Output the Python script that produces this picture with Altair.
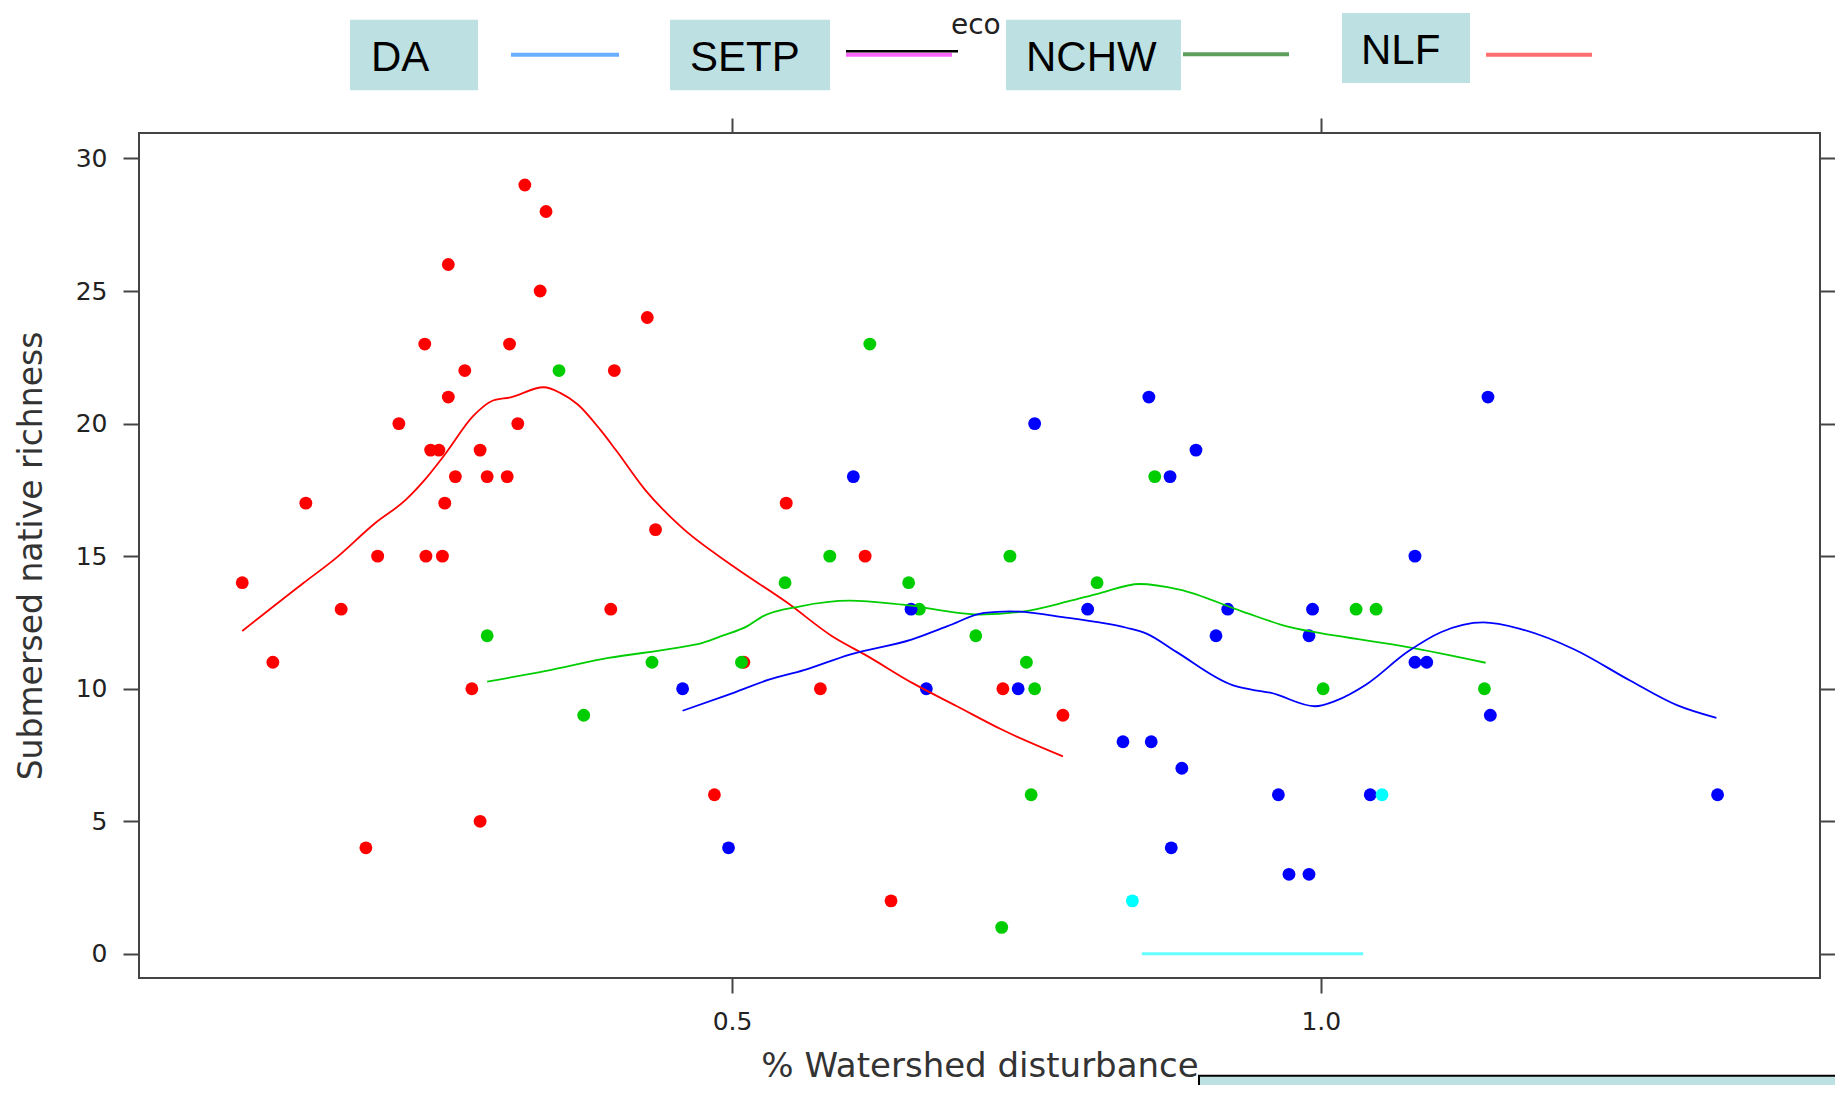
import altair as alt
import pandas as pd

# ---------------- data ----------------
GROUPS = ["DA", "SETP", "NCHW", "NLF"]
POINT_COLORS = ["#0000FF", "#00FFFF", "#00CD00", "#FF0000"]

NLF_X = [0.084, 0.110, 0.138, 0.168, 0.189, 0.199, 0.217, 0.239, 0.240, 0.244,
         0.251, 0.254, 0.256, 0.259, 0.259, 0.265, 0.273, 0.279, 0.286, 0.286,
         0.292, 0.309, 0.311, 0.318, 0.324, 0.337, 0.342, 0.397, 0.400, 0.428,
         0.435, 0.485, 0.510, 0.546, 0.575, 0.613, 0.635, 0.730, 0.781]
NLF_Y = [14, 11, 17, 13, 4, 15, 20, 23, 15, 19,
         19, 15, 17, 26, 21, 18, 22, 10, 19, 5,
         18, 18, 23, 20, 29, 25, 28, 13, 22, 24,
         16, 6, 11, 17, 10, 15, 2, 10, 9]

NCHW_X = [0.292, 0.353, 0.374, 0.432, 0.508, 0.545, 0.583, 0.617, 0.650, 0.659,
          0.707, 0.729, 0.736, 0.750, 0.754, 0.757, 0.810, 0.859, 1.002, 1.030,
          1.047, 1.139]
NCHW_Y = [12, 22, 9, 11, 11, 14, 15, 23, 14, 13,
          12, 1, 15, 11, 6, 10, 14, 18, 10, 13,
          13, 10]

DA_X = [0.458, 0.497, 0.603, 0.652, 0.665, 0.743, 0.757, 0.802, 0.832, 0.854,
        0.856, 0.872, 0.873, 0.882, 0.894, 0.911, 0.921, 0.964, 0.973, 0.990,
        0.990, 0.993, 1.042, 1.080, 1.080, 1.090, 1.142, 1.144, 1.337]
DA_Y = [10, 4, 18, 13, 10, 10, 20, 13, 8, 21,
        8, 18, 4, 7, 19, 12, 13, 6, 3, 3,
        12, 13, 6, 15, 11, 11, 21, 9, 6]

SETP_X = [0.840, 1.052]
SETP_Y = [2, 6]

# smoothed curves
NLF_LX = [0.084, 0.136, 0.162, 0.197, 0.223, 0.238, 0.257, 0.280, 0.297, 0.312,
          0.340, 0.354, 0.369, 0.388, 0.401, 0.426, 0.456, 0.501, 0.547, 0.585,
          0.615, 0.653, 0.691, 0.729, 0.781]
NLF_LY = [12.18, 13.99, 14.87, 16.25, 17.13, 17.83, 18.89, 20.28, 20.87, 20.99,
          21.37, 21.16, 20.72, 19.77, 19.02, 17.51, 16.13, 14.62, 13.24, 11.98,
          11.23, 10.22, 9.34, 8.46, 7.45]

NCHW_LX = [0.292, 0.341, 0.395, 0.453, 0.475, 0.492, 0.513, 0.526, 0.558, 0.600,
           0.645, 0.710, 0.748, 0.786, 0.812, 0.846, 0.880, 0.933, 0.973, 1.013,
           1.074, 1.140]
NCHW_LY = [10.27, 10.66, 11.16, 11.54, 11.73, 12.00, 12.36, 12.73, 13.11, 13.32,
           13.17, 12.80, 12.92, 13.30, 13.60, 13.95, 13.74, 12.92, 12.33, 12.00,
           11.57, 10.98]

DA_LX = [0.458, 0.497, 0.532, 0.561, 0.600, 0.653, 0.683, 0.714, 0.736, 0.786,
         0.812, 0.835, 0.852, 0.877, 0.925, 0.941, 0.957, 0.995, 1.013, 1.038,
         1.074, 1.102, 1.138, 1.170, 1.215, 1.263, 1.303, 1.336]
DA_LY = [9.17, 9.78, 10.35, 10.70, 11.29, 11.86, 12.36, 12.86, 12.92, 12.67,
         12.50, 12.30, 12.08, 11.40, 10.14, 9.97, 9.85, 9.34, 9.55, 10.14,
         11.40, 12.13, 12.50, 12.25, 11.49, 10.30, 9.37, 8.90]

SETP_LX = [0.848, 1.036]
SETP_LY = [0.0, 0.0]

X_TICKS = [0.5, 1.0]
Y_TICKS = [0, 5, 10, 15, 20, 25, 30]
X_DOMAIN = [-0.0037, 1.424]
Y_DOMAIN = [-0.91, 30.96]

LEGEND_TITLE = "eco"
LEGEND_LABELS = ["DA", "SETP", "NCHW", "NLF"]
X_TITLE = "% Watershed disturbance"
Y_TITLE = "Submersed native richness"

# ---------------- tables ----------------
def frame(name, xs, ys):
    return pd.DataFrame({"x": xs, "y": ys, "eco": name})

pts = pd.concat([frame("NLF", NLF_X, NLF_Y), frame("NCHW", NCHW_X, NCHW_Y),
                 frame("DA", DA_X, DA_Y), frame("SETP", SETP_X, SETP_Y)],
                ignore_index=True)
lines = pd.concat([frame("NLF", NLF_LX, NLF_LY), frame("NCHW", NCHW_LX, NCHW_LY),
                   frame("DA", DA_LX, DA_LY)], ignore_index=True)
cyan_line = frame("SETP", SETP_LX, SETP_LY)

xs = alt.Scale(domain=X_DOMAIN, nice=False, zero=False)
ys = alt.Scale(domain=Y_DOMAIN, nice=False, zero=False)
cs = alt.Scale(domain=GROUPS, range=POINT_COLORS)

FONT = "DejaVu Sans"
TICK_COLOR = "#444"
common = dict(domain=False, grid=False, tickColor=TICK_COLOR, tickWidth=2,
              labelFont=FONT, labelFontSize=25, labelColor="#222",
              titleFont=FONT, titleFontWeight="normal", titleColor="#333")

points = alt.Chart(pts).mark_circle(size=165, opacity=1).encode(
    x=alt.X("x:Q", scale=xs, axis=alt.Axis(values=X_TICKS, format=".1f", title=X_TITLE,
                                           tickSize=15, labelPadding=16, titlePadding=15,
                                           titleFontSize=34, **common)),
    y=alt.Y("y:Q", scale=ys, axis=alt.Axis(values=Y_TICKS, format="d", title=Y_TITLE,
                                           tickSize=16, labelPadding=16, titlePadding=27,
                                           titleFontSize=33, **common)),
    color=alt.Color("eco:N", scale=cs, legend=None),
)

curves = alt.Chart(lines).mark_line(strokeWidth=1.8, interpolate="monotone").encode(
    x=alt.X("x:Q", scale=xs, axis=alt.Axis(orient="top", values=X_TICKS, labels=False,
                                           title=None, tickSize=15, domain=False, grid=False,
                                           tickColor=TICK_COLOR, tickWidth=2)),
    y=alt.Y("y:Q", scale=ys, axis=alt.Axis(orient="right", values=Y_TICKS, labels=False,
                                           title=None, tickSize=16, domain=False, grid=False,
                                           tickColor=TICK_COLOR, tickWidth=2)),
    color=alt.Color("eco:N", scale=cs, legend=None),
    detail="eco:N",
)

cyan = alt.Chart(cyan_line).mark_line(strokeWidth=3, color="#66FFFF").encode(
    x=alt.X("x:Q", scale=xs, axis=None),
    y=alt.Y("y:Q", scale=ys, axis=None),
)

# ---------------- decorative legend (drawn in pixel space) ----------------
one = pd.DataFrame({"k": [0]})
BOX = "#bde0e3"

def box(x1, x2, y1, y2, stroke=None):
    kw = dict(color=BOX)
    if stroke:
        kw.update(stroke=stroke, strokeWidth=2)
    return alt.Chart(one).mark_rect(**kw).encode(
        x=alt.value(x1), x2=alt.value(x2), y=alt.value(y1), y2=alt.value(y2))

def label(txt, x, y, size=42, font="Liberation Sans", color="#000"):
    return alt.Chart(one).mark_text(align="left", baseline="alphabetic", font=font,
                                    fontSize=size, color=color).encode(
        x=alt.value(x), y=alt.value(y), text=alt.value(txt))

def seg(x1, x2, y, color, w):
    return alt.Chart(one).mark_rule(color=color, strokeWidth=w).encode(
        x=alt.value(x1), x2=alt.value(x2), y=alt.value(y))

decor = [
    label(LEGEND_TITLE, 812, -99.3, size=28, font=FONT, color="#222"),
    box(211, 339, -113.3, -42.8), label(LEGEND_LABELS[0], 232, -62.3),
    seg(372, 480, -78.3, "#6aaeff", 4),
    box(531, 691, -113.3, -42.8), label(LEGEND_LABELS[1], 551, -62.3),
    seg(707, 813, -78.3, "#ff66ff", 4), seg(707, 819, -81.8, "#000000", 2.5),
    box(867, 1042, -113.3, -42.8), label(LEGEND_LABELS[2], 887, -62.3),
    seg(1044, 1150, -78.8, "#5d9e5d", 4),
    box(1203, 1331, -120, -50), label(LEGEND_LABELS[3], 1222, -69),
    seg(1347, 1453, -78.3, "#ff6f6f", 4),
    box(1060, 1720, 942.7, 975, stroke="#000"),
]

chart = alt.layer(points, curves, cyan, *decor).resolve_axis(
    x="independent", y="independent"
).properties(
    width=1681, height=845,
    padding={"left": 131, "top": 125, "right": 15, "bottom": 107},
    autosize=alt.AutoSizeParams(type="none"),
    background="white",
).configure_view(stroke=TICK_COLOR, strokeWidth=2)

chart.save("out.html", embed_options={"renderer": "svg", "actions": False})
